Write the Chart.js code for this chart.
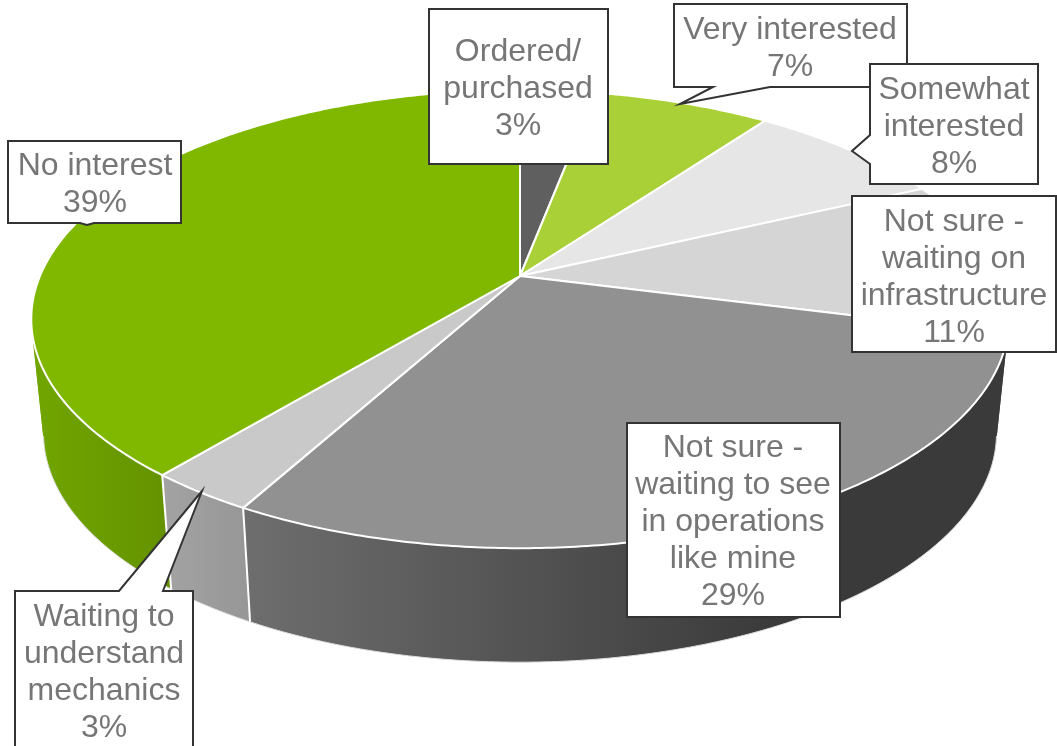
<!DOCTYPE html>
<html>
<head>
<meta charset="utf-8">
<style>
  html, body { margin: 0; padding: 0; background: #fff; overflow: hidden; }
  canvas { display: block; }
</style>
<script src="https://cdn.jsdelivr.net/npm/chart.js@4"></script>
</head>
<body>
<canvas id="pie" width="1057" height="746"></canvas>
<script>
// Data
const categories = ['Ordered/purchased', 'Very interested', 'Somewhat interested',
  'Not sure - waiting on infrastructure', 'Not sure - waiting to see in operations like mine',
  'Waiting to understand mechanics', 'No interest'];
const shares = [3, 7, 8, 11, 29, 3, 39];
const labelLines = [
  ['Ordered/', 'purchased'],
  ['Very interested'],
  ['Somewhat', 'interested'],
  ['Not sure -', 'waiting on', 'infrastructure'],
  ['Not sure -', 'waiting to see', 'in operations', 'like mine'],
  ['Waiting to', 'understand', 'mechanics'],
  ['No interest']
];

// Styles
const topColors = ['#5f5f5f', '#a9d036', '#e6e6e6', '#d5d5d5', '#919191', '#c9c9c9', '#80b800'];
const wallLeft = ['#4a4a4a', '#8fb02c', '#c4c4c4', '#3c3c3c', '#6e6e6e', '#a3a3a3', '#71a600'];
const wallRight = ['#4a4a4a', '#8fb02c', '#c4c4c4', '#3c3c3c', '#3a3a3a', '#979797', '#659300'];

// Label boxes: outline polygon including callout tail, and the centre of the text block
const labelBoxes = [
  [[429, 9], [608, 9], [608, 164], [429, 164]],
  [[674, 4], [907, 4], [907, 87], [770, 87], [680, 104], [713, 87], [674, 87]],
  [[870, 64], [1038, 64], [1038, 184], [870, 184], [870, 164], [852, 151], [870, 135]],
  [[852, 196], [1056, 196], [1056, 352], [852, 352]],
  [[627, 423], [840, 423], [840, 617], [627, 617]],
  [[15, 591], [119, 591], [202, 491], [163, 591], [193, 591], [193, 750], [15, 750]],
  [[8, 141], [181, 141], [181, 223], [94, 223], [87, 225], [80, 223], [8, 223]]
];
const labelCentres = [[518, 89], [790, 49], [954, 127], [954, 277.5], [733, 522], [104, 673], [95, 185]];

// Tilted-disc projection of a pie point: angle from the arc element, r from 0 to 1
const apexX = 520, apexY = 276, spanX = 480, spanY = 221, persp = 0.188;
const wallDrop = 114, wallShrink = 0.975;

function topPoint(a) {
  const u = Math.cos(a), v = Math.sin(a);
  const d = 1 - persp * v;
  return [apexX + spanX * u / d, apexY + spanY * v / d];
}
function basePoint(a) {
  const p = topPoint(a);
  return [apexX + (p[0] - apexX) * wallShrink, p[1] + wallDrop];
}
function anglesOf(el) {
  const out = [], n = Math.max(8, Math.ceil((el.endAngle - el.startAngle) / 0.01));
  for (let i = 0; i <= n; i++) out.push(el.startAngle + (el.endAngle - el.startAngle) * i / n);
  return out;
}
function signedArea(q) {
  let s = 0;
  q.forEach((p, i) => {
    const n = q[(i + 1) % q.length];
    s += p[0] * n[1] - n[0] * p[1];
  });
  return s;
}

const tiltedPie = {
  id: 'tiltedPie',
  beforeDatasetsDraw(chart) {
    const ctx = chart.ctx;
    const arcs = chart.getDatasetMeta(0).data;
    ctx.save();
    ctx.lineJoin = 'round';

    // side wall: quads of one slice share a path so no seams show,
    // and quads that turned over are filled apart so they don't cancel out
    arcs.forEach((el, i) => {
      const angles = anglesOf(el).filter(a => Math.sin(a) > -0.1);
      if (angles.length < 2) return;
      const front = angles.map(a => topPoint(a)[0]);
      const grad = ctx.createLinearGradient(Math.min(...front), 0, Math.max(...front) + 1, 0);
      grad.addColorStop(0, wallLeft[i]);
      grad.addColorStop(i === 4 ? 0.7 : 1, wallRight[i]);
      grad.addColorStop(1, wallRight[i]);
      ctx.fillStyle = grad;
      [1, -1].forEach(sign => {
        ctx.beginPath();
        for (let k = 0; k < angles.length - 1; k++) {
          const q = [topPoint(angles[k]), topPoint(angles[k + 1]), basePoint(angles[k + 1]), basePoint(angles[k])];
          if (signedArea(q) * sign < 0) continue;
          q.forEach((p, m) => m ? ctx.lineTo(p[0], p[1]) : ctx.moveTo(p[0], p[1]));
          ctx.closePath();
        }
        ctx.fill();
      });
    });

    // thin light edge along the bottom of the wall, front part only
    arcs.forEach(el => {
      ctx.beginPath();
      anglesOf(el).filter(a => Math.sin(a) > 0.2).forEach((a, k) => {
        const p = basePoint(a);
        k ? ctx.lineTo(p[0], p[1]) : ctx.moveTo(p[0], p[1]);
      });
      ctx.strokeStyle = '#dcdcdc';
      ctx.lineWidth = 1;
      ctx.stroke();
    });

    // white separators on the wall
    arcs.forEach(el => {
      if (Math.sin(el.startAngle) > 0.3) {
        const p = topPoint(el.startAngle), q = basePoint(el.startAngle);
        ctx.beginPath();
        ctx.moveTo(p[0], p[1]);
        ctx.lineTo(q[0], q[1]);
        ctx.strokeStyle = '#fff';
        ctx.lineWidth = 2;
        ctx.stroke();
      }
    });

    // top face
    arcs.forEach((el, i) => {
      ctx.beginPath();
      ctx.moveTo(apexX, apexY);
      anglesOf(el).forEach(a => {
        const p = topPoint(a);
        ctx.lineTo(p[0], p[1]);
      });
      ctx.closePath();
      ctx.fillStyle = topColors[i];
      ctx.fill();
      ctx.strokeStyle = '#fff';
      ctx.lineWidth = 2;
      ctx.stroke();
    });
    ctx.restore();
    return false;
  },
  afterDraw(chart) {
    const ctx = chart.ctx;
    ctx.save();
    ctx.font = '32px "Liberation Sans", Arial, sans-serif';
    ctx.textAlign = 'center';
    ctx.textBaseline = 'middle';
    labelBoxes.forEach((box, i) => {
      ctx.beginPath();
      box.forEach((p, k) => k ? ctx.lineTo(p[0], p[1]) : ctx.moveTo(p[0], p[1]));
      ctx.closePath();
      ctx.fillStyle = '#fff';
      ctx.fill();
      ctx.strokeStyle = '#333';
      ctx.lineWidth = 2;
      ctx.stroke();
      const lines = labelLines[i].concat(shares[i] + '%');
      ctx.fillStyle = '#767676';
      lines.forEach((t, k) => {
        ctx.fillText(t, labelCentres[i][0], labelCentres[i][1] + (k - (lines.length - 1) / 2) * 37);
      });
    });
    ctx.restore();
  }
};

new Chart(document.getElementById('pie'), {
  type: 'pie',
  data: {
    labels: categories,
    datasets: [{ data: shares, backgroundColor: topColors }]
  },
  options: {
    responsive: false,
    animation: false,
    events: [],
    plugins: { legend: { display: false }, tooltip: { enabled: false } }
  },
  plugins: [tiltedPie]
});
</script>
</body>
</html>
